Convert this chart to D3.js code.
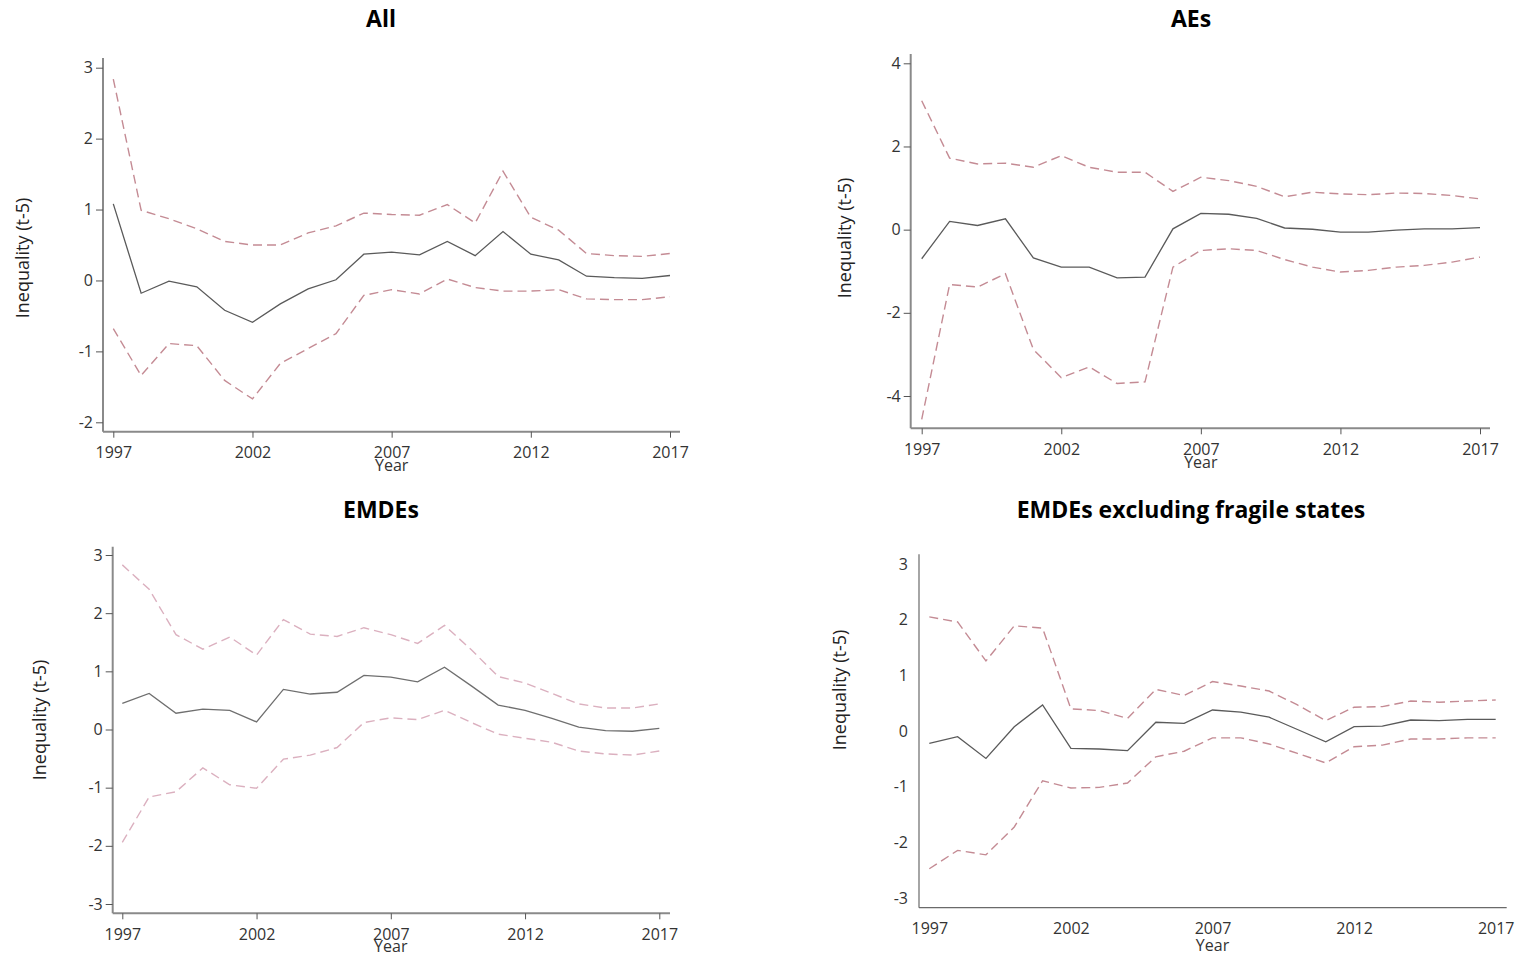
<!DOCTYPE html>
<meta charset="utf-8">
<script src="https://d3js.org/d3.v7.min.js"></script>
<style>
  body { margin: 0; background: #fff; }
  text { font-family: "Open Sans", "Noto Sans", sans-serif; }
</style>
<div id="my_dataviz"></div>
<script>

// years on the x axis
var years = d3.range(1997, 2018);
var xTicks = [1997, 2002, 2007, 2012, 2017];

// All
var allMid   = [1.08, -0.18, -0.01, -0.09, -0.42, -0.59, -0.33, -0.12, 0.01, 0.37, 0.40, 0.36, 0.55, 0.35, 0.69, 0.37, 0.29, 0.06, 0.04, 0.03, 0.07];
var allUpper = [2.84, 0.99, 0.87, 0.73, 0.55, 0.50, 0.50, 0.67, 0.77, 0.95, 0.93, 0.92, 1.07, 0.81, 1.54, 0.89, 0.71, 0.38, 0.35, 0.34, 0.38];
var allLower = [-0.68, -1.34, -0.89, -0.92, -1.41, -1.67, -1.17, -0.96, -0.75, -0.21, -0.13, -0.19, 0.02, -0.10, -0.15, -0.15, -0.13, -0.26, -0.27, -0.27, -0.23];

// AEs
var aeMid   = [-0.70, 0.20, 0.10, 0.26, -0.68, -0.90, -0.90, -1.16, -1.14, 0.02, 0.39, 0.37, 0.27, 0.04, 0.01, -0.06, -0.06, -0.01, 0.02, 0.02, 0.05];
var aeUpper = [3.10, 1.72, 1.58, 1.60, 1.50, 1.78, 1.50, 1.38, 1.38, 0.92, 1.26, 1.18, 1.04, 0.79, 0.90, 0.86, 0.84, 0.88, 0.87, 0.82, 0.74];
var aeLower = [-4.56, -1.32, -1.38, -1.06, -2.88, -3.56, -3.30, -3.70, -3.66, -0.90, -0.50, -0.46, -0.50, -0.72, -0.90, -1.02, -0.98, -0.90, -0.86, -0.78, -0.66];

// EMDEs
var emMid   = [0.45, 0.62, 0.28, 0.35, 0.33, 0.13, 0.69, 0.61, 0.64, 0.93, 0.90, 0.82, 1.07, 0.75, 0.42, 0.33, 0.19, 0.04, -0.02, -0.03, 0.02];
var emUpper = [2.83, 2.41, 1.63, 1.38, 1.59, 1.28, 1.89, 1.64, 1.60, 1.75, 1.63, 1.48, 1.79, 1.37, 0.91, 0.80, 0.62, 0.44, 0.37, 0.37, 0.44];
var emLower = [-1.94, -1.16, -1.07, -0.66, -0.95, -1.01, -0.51, -0.44, -0.31, 0.12, 0.20, 0.17, 0.33, 0.12, -0.08, -0.15, -0.22, -0.37, -0.42, -0.44, -0.37];

// EMDEs excluding fragile states
var exMid   = [-0.22, -0.10, -0.49, 0.08, 0.47, -0.31, -0.32, -0.35, 0.16, 0.14, 0.38, 0.34, 0.25, 0.03, -0.19, 0.08, 0.09, 0.20, 0.19, 0.21, 0.21];
var exUpper = [2.05, 1.96, 1.26, 1.89, 1.85, 0.40, 0.37, 0.23, 0.75, 0.64, 0.89, 0.81, 0.72, 0.47, 0.19, 0.43, 0.44, 0.54, 0.52, 0.54, 0.56];
var exLower = [-2.47, -2.14, -2.22, -1.72, -0.89, -1.02, -1.01, -0.93, -0.46, -0.36, -0.12, -0.12, -0.23, -0.40, -0.57, -0.28, -0.25, -0.14, -0.14, -0.12, -0.12];

var panels = [
  {title: "All", mid: allMid, upper: allUpper, lower: allLower,
   yTicks: [-2, -1, 0, 1, 2, 3], yDom: [-2, 3], yPix: [422.3, 67.7],
   xPix: [113.3, 670], axisX: 103, top: 58, bottom: 431.7, right: 680,
   titleX: 381, titleY: 27, ylabX: 29, ylabY: 258, yearY: 471, tickMarks: true,
   dash: "#c48b94", line: "#5a5a5a", axisCol: "#8a8a8a", axisW: 2},
  {title: "AEs", mid: aeMid, upper: aeUpper, lower: aeLower,
   yTicks: [-4, -2, 0, 2, 4], yDom: [-4, 4], yPix: [396, 63.3],
   xPix: [921.7, 1480], axisX: 910.7, top: 54, bottom: 428.3, right: 1490,
   titleX: 1191, titleY: 27, ylabX: 851, ylabY: 238, yearY: 468, tickMarks: true,
   dash: "#c48b94", line: "#5a5a5a", axisCol: "#8a8a8a", axisW: 2},
  {title: "EMDEs", mid: emMid, upper: emUpper, lower: emLower,
   yTicks: [-3, -2, -1, 0, 1, 2, 3], yDom: [-3, 3], yPix: [904, 555],
   xPix: [122.3, 659.3], axisX: 112.7, top: 546.7, bottom: 913.3, right: 670,
   titleX: 381, titleY: 518, ylabX: 46, ylabY: 720, yearY: 952, tickMarks: true,
   dash: "#dbb0bf", line: "#6f6f6f", axisCol: "#8a8a8a", axisW: 2},
  {title: "EMDEs excluding fragile states", mid: exMid, upper: exUpper, lower: exLower,
   yTicks: [-3, -2, -1, 0, 1, 2, 3], yDom: [-3, 3], yPix: [898.3, 564],
   xPix: [929.3, 1495.7], axisX: 919, top: 554.3, bottom: 907.7, right: 1506.7,
   titleX: 1191, titleY: 518, ylabX: 846, ylabY: 690, yearY: 951, tickMarks: false,
   dash: "#c48b94", line: "#5a5a5a", axisCol: "#6a6a6a", axisW: 1.2}
];

var fmt = function(d) { return String(d); };

var svg = d3.select("#my_dataviz")
  .append("svg")
    .attr("width", 1519)
    .attr("height", 957);

panels.forEach(function(p) {
  var x = d3.scaleLinear().domain([1997, 2017]).range(p.xPix);
  var y = d3.scaleLinear().domain(p.yDom).range(p.yPix);
  var g = svg.append("g");

  // axis lines
  g.append("line")
    .attr("x1", p.axisX).attr("x2", p.axisX)
    .attr("y1", p.top).attr("y2", p.bottom)
    .attr("stroke", p.axisCol).attr("stroke-width", p.axisW);
  g.append("line")
    .attr("x1", p.axisX).attr("x2", p.right)
    .attr("y1", p.bottom).attr("y2", p.bottom)
    .attr("stroke", p.axisCol).attr("stroke-width", p.axisW);

  // y axis
  var yAxis = g.append("g")
    .attr("transform", "translate(" + p.axisX + ",0)")
    .call(d3.axisLeft(y).tickValues(p.yTicks).tickFormat(fmt)
      .tickSize(p.tickMarks ? 7 : 0).tickPadding(p.tickMarks ? 3 : 11));
  yAxis.select(".domain").remove();
  yAxis.selectAll("line").attr("stroke", "#555");
  yAxis.selectAll("text").attr("font-size", 16).attr("fill", "#333")
    .style("font-family", "'Open Sans', sans-serif");

  // x axis
  var xAxis = g.append("g")
    .attr("transform", "translate(0," + p.bottom + ")")
    .call(d3.axisBottom(x).tickValues(xTicks).tickFormat(fmt)
      .tickSize(p.tickMarks ? 6 : 0).tickPadding(p.tickMarks ? 9 : 15));
  xAxis.select(".domain").remove();
  xAxis.selectAll("line").attr("stroke", "#555");
  xAxis.selectAll("text").attr("font-size", 16).attr("fill", "#333")
    .style("font-family", "'Open Sans', sans-serif");

  // lines
  var line = function(vals) {
    return d3.line()
      .x(function(d, i) { return x(years[i]); })
      .y(function(d) { return y(d); })(vals);
  };
  [p.upper, p.lower].forEach(function(vals) {
    g.append("path")
      .attr("d", line(vals))
      .attr("fill", "none")
      .attr("stroke", p.dash)
      .attr("stroke-width", 1.4)
      .attr("stroke-dasharray", "9,5");
  });
  g.append("path")
    .attr("d", line(p.mid))
    .attr("fill", "none")
    .attr("stroke", p.line)
    .attr("stroke-width", 1.3);

  // title
  svg.append("text")
    .attr("x", p.titleX).attr("y", p.titleY)
    .attr("text-anchor", "middle")
    .attr("font-size", 23).attr("font-weight", "bold")
    .attr("fill", "#000")
    .text(p.title);

  // y label
  svg.append("text")
    .attr("transform", "translate(" + p.ylabX + "," + p.ylabY + ") rotate(-90)")
    .attr("text-anchor", "middle")
    .attr("font-size", 18).attr("fill", "#222")
    .text("Inequality (t-5)");

  // x label
  svg.append("text")
    .attr("x", x(2007)).attr("y", p.yearY)
    .attr("text-anchor", "middle")
    .attr("font-size", 16).attr("fill", "#333")
    .text("Year");
});
</script>
